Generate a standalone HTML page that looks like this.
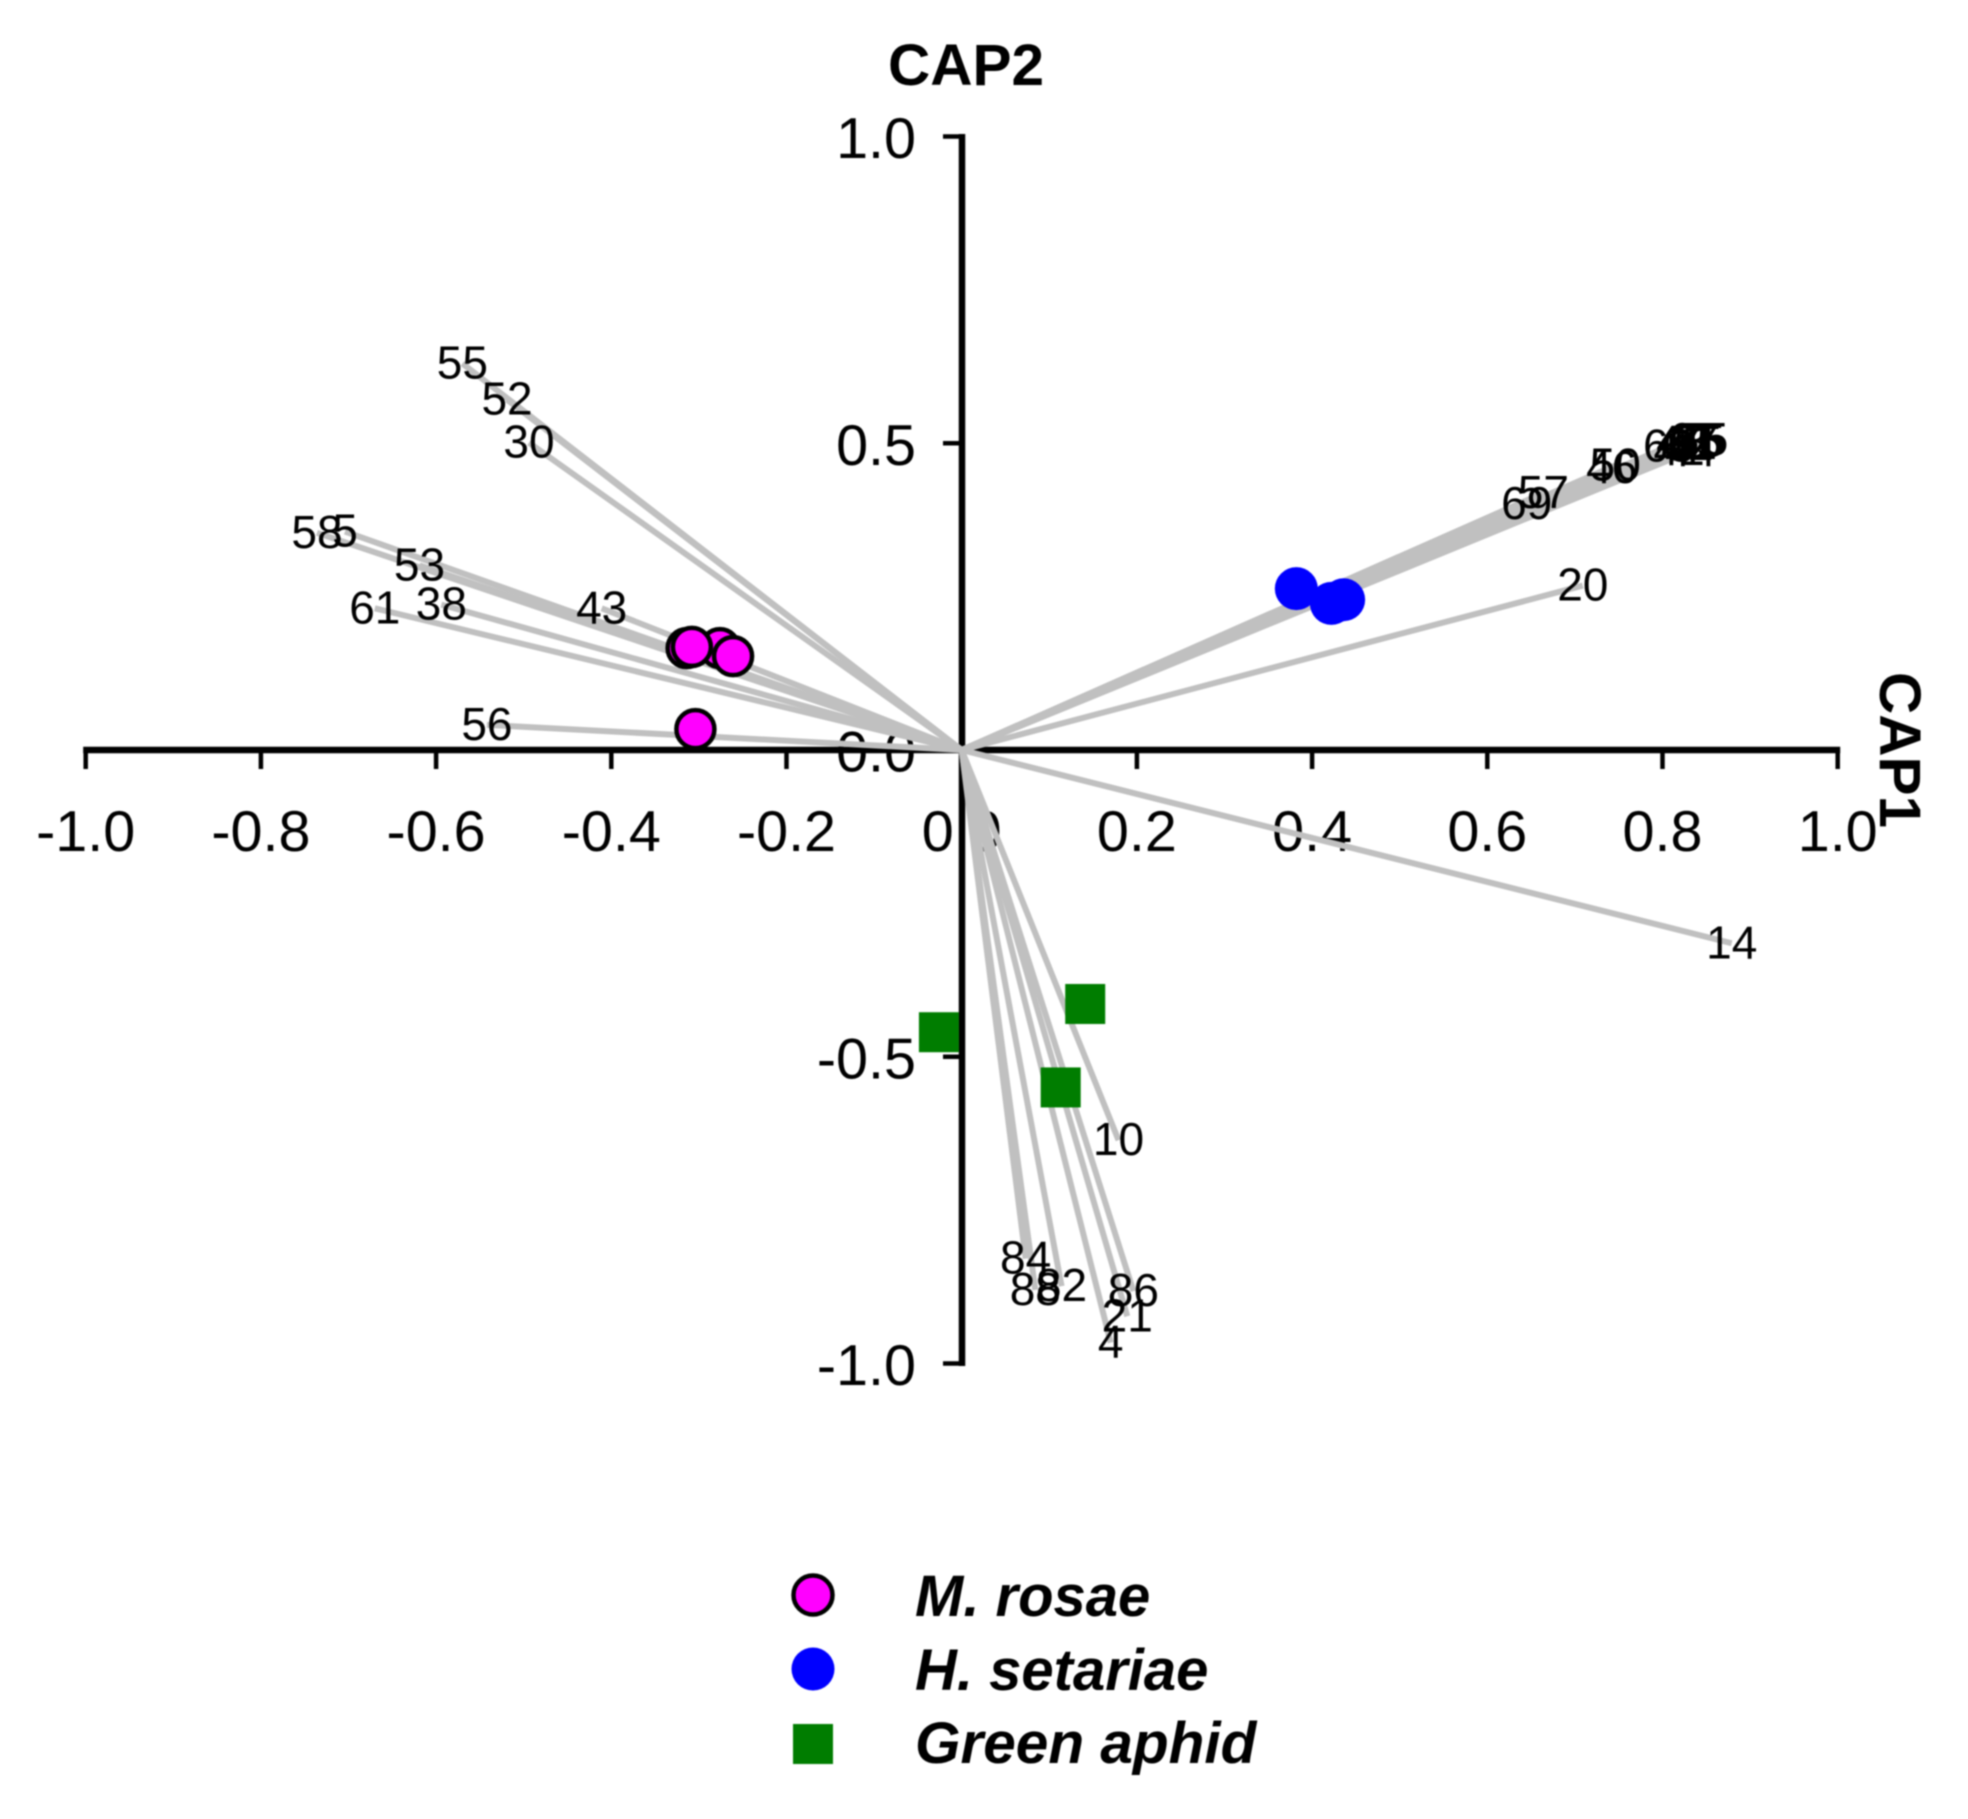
<!DOCTYPE html>
<html lang="en">
<head>
<meta charset="utf-8">
<title>CAP biplot</title>
<style>
html,body{margin:0;padding:0;background:#fff;width:1968px;height:1819px;overflow:hidden}
svg{display:block;filter:blur(.8px)}
text{font-family:"Liberation Sans",Arial,sans-serif;fill:#000}
</style>
</head>
<body>
<svg id="chart" width="1968" height="1819" viewBox="0 0 1968 1819" xmlns="http://www.w3.org/2000/svg">
  <g id="tick-label-layer"></g>
  <g id="axis-layer"></g>
  <g id="vector-layer"></g>
  <g id="marker-layer"></g>
  <g id="label-layer"></g>
  <text x="966" y="85" text-anchor="middle" font-size="58.5" font-weight="700">CAP2</text>
  <text transform="translate(1880,672) rotate(90)" font-size="58.5" font-weight="700">CAP1</text>
  <g>
    <g>
      <circle cx="813" cy="1595" r="19.5" fill="#ff00ff" stroke="#000" stroke-width="4.5"/>
      <text x="915" y="1616" font-size="58" font-weight="700" font-style="italic">M. rosae</text>
    </g>
    <g>
      <circle cx="813" cy="1669" r="21.5" fill="#0000ff"/>
      <text x="915" y="1690" font-size="58" font-weight="700" font-style="italic">H. setariae</text>
    </g>
    <g>
      <rect x="793" y="1724" width="40" height="40" fill="#007d00"/>
      <text x="915" y="1763" font-size="58.5" font-weight="700" font-style="italic">Green aphid</text>
    </g>
  </g>
</svg>
<script>
const xTickValues = [-1.0, -0.8, -0.6, -0.4, -0.2, 0.0, 0.2, 0.4, 0.6, 0.8, 1.0];
const xTickLabels = ["-1.0", "-0.8", "-0.6", "-0.4", "-0.2", "0.0", "0.2", "0.4", "0.6", "0.8", "1.0"];
const yTickValues = [1.0, 0.5, 0.0, -0.5, -1.0];
const yTickLabels = ["1.0", "0.5", "0.0", "-0.5", "-1.0"];

const vectorLabels = ["55", "52", "30", "58", "5", "53", "38", "61", "43", "56", "20", "14", "10", "84", "88", "82", "86", "21", "4", "57", "69", "46", "50", "63", "41", "48", "62", "44", "67", "65", "75", "35"];
const vectorCap1 = [-0.570, -0.519, -0.494, -0.736, -0.704, -0.619, -0.594, -0.670, -0.411, -0.542, 0.709, 0.879, 0.179, 0.073, 0.084, 0.114, 0.196, 0.189, 0.170, 0.664, 0.645, 0.742, 0.746, 0.807, 0.819, 0.822, 0.829, 0.832, 0.836, 0.842, 0.846, 0.839];
const vectorCap2 = [0.630, 0.571, 0.501, 0.354, 0.356, 0.301, 0.237, 0.231, 0.231, 0.041, 0.268, -0.315, -0.636, -0.829, -0.880, -0.874, -0.882, -0.923, -0.966, 0.419, 0.401, 0.460, 0.464, 0.495, 0.489, 0.501, 0.497, 0.487, 0.505, 0.503, 0.505, 0.501];

const rosaeCap1 = [-0.314, -0.276, -0.308, -0.261, -0.304];
const rosaeCap2 = [0.166, 0.166, 0.168, 0.153, 0.034];
const setariaeCap1 = [0.382, 0.436, 0.422];
const setariaeCap2 = [0.263, 0.245, 0.239];
const aphidCap1 = [0.141, 0.113, -0.026];
const aphidCap2 = [-0.414, -0.550, -0.460];

const NS = "http://www.w3.org/2000/svg";
function xPos(v) { return 961.7 + v * 876; }
function yPos(v) { return 750 - v * 613.5; }
function make(tag, attrs, parent) {
  const el = document.createElementNS(NS, tag);
  for (const k in attrs) el.setAttribute(k, attrs[k]);
  parent.appendChild(el);
  return el;
}
const tickLayer = document.getElementById("tick-label-layer");
const axisLayer = document.getElementById("axis-layer");
const vectorLayer = document.getElementById("vector-layer");
const markerLayer = document.getElementById("marker-layer");
const labelLayer = document.getElementById("label-layer");

const xAxis = make("line", {x1: xPos(-1) - 2.5, x2: xPos(1) + 2.5, y1: yPos(0), y2: yPos(0), stroke: "#000", "stroke-width": 6.5}, axisLayer);


const yAxis = make("line", {x1: 962, x2: 962, y1: yPos(1) - 2.5, y2: yPos(-1) + 2.5, stroke: "#000", "stroke-width": 6.5}, axisLayer);



xTickValues.forEach(function (v, i) {
  const t = make("line", {x1: xPos(v), x2: xPos(v), y1: yPos(0), y2: yPos(0) + 19, stroke: "#000", "stroke-width": 4.5}, axisLayer);
  
  
  const l = make("text", {x: xPos(v), y: 851, "text-anchor": "middle", "font-size": 57.5}, tickLayer);
  l.textContent = xTickLabels[i];
  
  
});
yTickValues.forEach(function (v, i) {
  const t = make("line", {x1: 943, x2: 962, y1: yPos(v), y2: yPos(v), stroke: "#000", "stroke-width": 4.5}, axisLayer);
  
  
  const l = make("text", {x: 916, y: yPos(v) + 21.5, "text-anchor": "end", "font-size": 57.5}, tickLayer);
  l.textContent = yTickLabels[i];
  
  
});

vectorLabels.forEach(function (name, i) {
  const ln = make("line", {x1: xPos(0), y1: yPos(0), x2: xPos(vectorCap1[i]), y2: yPos(vectorCap2[i]), stroke: "#c0c0c0", "stroke-width": 6}, vectorLayer);
  
  
  const tx = make("text", {x: xPos(vectorCap1[i]), y: yPos(vectorCap2[i]) + 15, "text-anchor": "middle", "font-size": 46}, labelLayer);
  tx.textContent = name;
  
  
});

aphidCap1.forEach(function (v, i) {
  const m = make("rect", {x: xPos(v) - 20, y: yPos(aphidCap2[i]) - 20, width: 40, height: 40, fill: "#007d00"}, markerLayer);
  
  
});
setariaeCap1.forEach(function (v, i) {
  const m = make("circle", {cx: xPos(v), cy: yPos(setariaeCap2[i]), r: 21.5, fill: "#0000ff"}, markerLayer);
  
  
});
rosaeCap1.forEach(function (v, i) {
  const m = make("circle", {cx: xPos(v), cy: yPos(rosaeCap2[i]), r: 19, fill: "#ff00ff", stroke: "#000", "stroke-width": 4.5}, markerLayer);
  
  
});
</script>
</body>
</html>
